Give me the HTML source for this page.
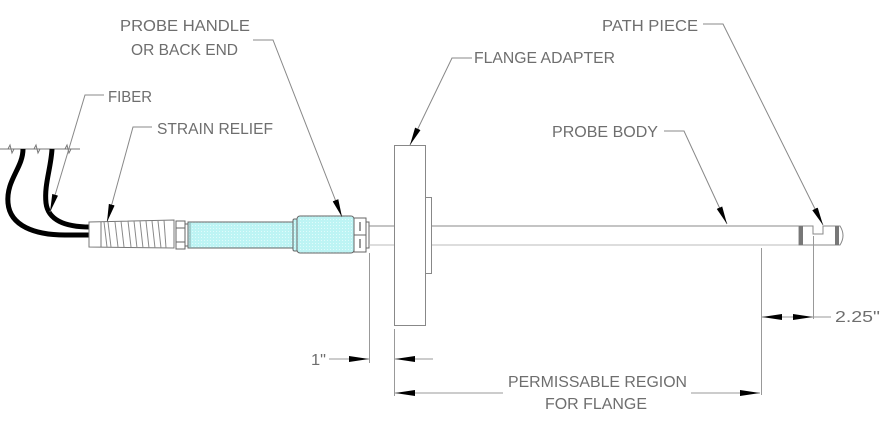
<!DOCTYPE html>
<html><head><meta charset="utf-8"><style>
html,body{margin:0;padding:0;background:#fff;}
svg{display:block;}
text{font-family:"Liberation Sans",sans-serif;fill:#6e6e6e;font-size:16px;}
</style></head><body>
<svg width="886" height="424" viewBox="0 0 886 424" xmlns="http://www.w3.org/2000/svg">
<defs>
<marker id="ah" markerUnits="userSpaceOnUse" markerWidth="20" markerHeight="8" refX="18" refY="3" orient="auto"><path d="M0,0 L18,3 L0,6 z" fill="#000"/></marker>
<marker id="ah2" markerUnits="userSpaceOnUse" markerWidth="22" markerHeight="8" refX="20" refY="3" orient="auto-start-reverse"><path d="M0,0 L20,3 L0,6 z" fill="#000"/></marker>
<pattern id="cy" width="3" height="3" patternUnits="userSpaceOnUse"><rect width="3" height="3" fill="#bdf4f4"/><rect width="1" height="1" fill="#e0fbfb"/></pattern>
</defs>

<!-- break line -->
<g stroke="#777" stroke-width="1" fill="none">
<line x1="0" y1="149" x2="80" y2="149"/>
<path d="M8,149 L10,145 L12,153 L14,149"/>
<path d="M34,149 L36,145 L38,153 L40,149"/>
<path d="M65,149 L67,145 L69,153 L71,149"/>
</g>

<!-- cables -->
<g stroke="#000" stroke-width="5" fill="none">
<path d="M23 149 C23 168, 6 180, 8 203 C10 226, 35 235, 65 235 L90 235"/>
<path d="M52 149 C51 168, 44 185, 46 203 C48 220, 65 227, 90 227"/>
</g>

<!-- strain relief -->
<g stroke="#777" stroke-width="1" fill="#fff">
<polygon points="89,222 174,220 174,248 89,247"/>
<line x1="101" y1="222" x2="101" y2="247"/>
</g>
<g stroke="#888" stroke-width="1">
<line x1="104" y1="222" x2="107" y2="247"/>
<line x1="108" y1="222" x2="111" y2="247"/>
<line x1="115" y1="222" x2="118" y2="247"/>
<line x1="121" y1="221" x2="124" y2="247"/>
<line x1="128" y1="221" x2="131" y2="247"/>
<line x1="134" y1="221" x2="137" y2="248"/>
<line x1="140" y1="221" x2="143" y2="248"/>
<line x1="146" y1="221" x2="149" y2="248"/>
<line x1="152" y1="221" x2="155" y2="248"/>
<line x1="158" y1="221" x2="161" y2="248"/>
<line x1="164" y1="220" x2="166" y2="248"/>
</g>
<!-- nut -->
<g stroke="#666" stroke-width="1" fill="#fff">
<rect x="176" y="221" width="9" height="28"/>
<line x1="176" y1="228" x2="185" y2="228"/>
<line x1="176" y1="242" x2="185" y2="242"/>
<rect x="185" y="224" width="3" height="22"/>
</g>

<!-- cyan tube & handle -->
<g stroke="#666" stroke-width="1">
<rect x="188" y="222" width="105" height="26" fill="url(#cy)"/>
<line x1="190" y1="222" x2="190" y2="248" stroke="#8aa"/>
<rect x="293" y="219" width="5" height="32" rx="1.5" fill="url(#cy)"/>
<rect x="297" y="216" width="57" height="37" rx="3" fill="url(#cy)"/>
</g>
<!-- connector box -->
<g stroke="#666" stroke-width="1" fill="#fff">
<rect x="354" y="218" width="12" height="34"/>
<line x1="354" y1="235" x2="366" y2="235"/>
<rect x="366" y="222" width="3" height="26"/>
</g>
<g fill="#999">
<rect x="359" y="222" width="2" height="9"/>
<rect x="359" y="239" width="2" height="9"/>
</g>

<!-- shaft -->
<line x1="369" y1="226" x2="799" y2="226" stroke="#888" stroke-width="1"/>
<line x1="369" y1="245" x2="799" y2="245" stroke="#bbb" stroke-width="1"/>

<!-- flange -->
<rect x="394.5" y="145.5" width="31" height="180" fill="#fff" stroke="#888" stroke-width="1"/>
<rect x="425.5" y="197.5" width="6" height="76" fill="#fff" stroke="#888" stroke-width="1"/>

<!-- right end cap -->
<g stroke="#888" stroke-width="1" fill="#fff">
<path d="M799 226 L813 226 L813 234 L823 234 L823 226 L840 226 Q846 235.5 840 245 L799 245 Z"/>
</g>
<rect x="799" y="226" width="4" height="19" fill="#777"/>
<rect x="835" y="226" width="4" height="19" fill="#777"/>

<!-- extension lines -->
<g stroke="#999" stroke-width="1">
<line x1="369.5" y1="253" x2="369.5" y2="363"/>
<line x1="394.5" y1="329" x2="394.5" y2="396"/>
<line x1="761.5" y1="248" x2="761.5" y2="395"/>
<line x1="813.5" y1="236" x2="813.5" y2="319"/>
</g>

<!-- dimension lines -->
<g stroke="#999" stroke-width="1" fill="none">
<line x1="329" y1="359" x2="369" y2="359" marker-end="url(#ah2)"/>
<line x1="433" y1="359" x2="395" y2="359" marker-end="url(#ah2)"/>
<line x1="503" y1="393" x2="395" y2="393" marker-end="url(#ah2)"/>
<line x1="691" y1="393" x2="760" y2="393" marker-end="url(#ah2)"/>
<line x1="762" y1="317" x2="813" y2="317" marker-start="url(#ah2)" marker-end="url(#ah2)"/>
<line x1="813" y1="317" x2="831" y2="317"/>
</g>

<!-- leaders -->
<g stroke="#888" stroke-width="1" fill="none">
<polyline points="104,95 85,95 50,212" marker-end="url(#ah)"/>
<polyline points="152,127 133,127 107,222" marker-end="url(#ah)"/>
<polyline points="253,40 273,40 342,217" marker-end="url(#ah)"/>
<polyline points="472,58 452,58 410,145" marker-end="url(#ah)"/>
<polyline points="703,24 723,24 823,225" marker-end="url(#ah)"/>
<polyline points="664,131 684,131 727,224" marker-end="url(#ah)"/>
</g>

<!-- labels -->
<text x="108" y="102" textLength="44" lengthAdjust="spacingAndGlyphs">FIBER</text>
<text x="157" y="134" textLength="116" lengthAdjust="spacingAndGlyphs">STRAIN  RELIEF</text>
<text x="120" y="31" textLength="130" lengthAdjust="spacingAndGlyphs">PROBE  HANDLE</text>
<text x="131" y="55" textLength="107" lengthAdjust="spacingAndGlyphs">OR  BACK  END</text>
<text x="474" y="63" textLength="141" lengthAdjust="spacingAndGlyphs">FLANGE  ADAPTER</text>
<text x="602" y="31" textLength="96" lengthAdjust="spacingAndGlyphs">PATH  PIECE</text>
<text x="552" y="137" textLength="106" lengthAdjust="spacingAndGlyphs">PROBE  BODY</text>
<text x="508" y="387" textLength="179" lengthAdjust="spacingAndGlyphs">PERMISSABLE  REGION</text>
<text x="545" y="409" textLength="102" lengthAdjust="spacingAndGlyphs">FOR  FLANGE</text>
<text x="835" y="322" font-size="17" textLength="45" lengthAdjust="spacingAndGlyphs">2.25"</text>
<text x="311" y="365" textLength="15" lengthAdjust="spacingAndGlyphs">1"</text>
</svg>
</body></html>
